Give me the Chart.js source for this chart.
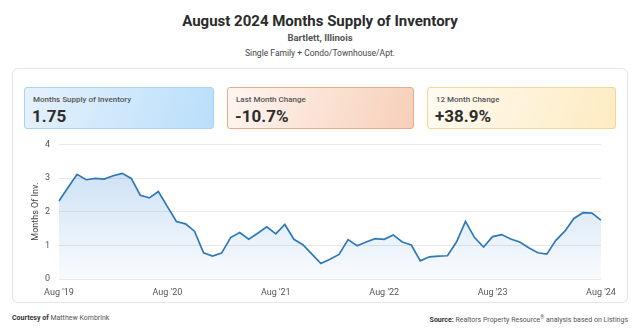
<!DOCTYPE html>
<html>
<head>
<meta charset="utf-8">
<script src="https://cdn.jsdelivr.net/npm/chart.js@4"></script>
<style>
  html, body { margin: 0; padding: 0; background: #fff; }
  body { width: 640px; height: 336px; position: relative; font-family: Roboto, "Open Sans", sans-serif; color: #333; overflow: hidden; }
  .titulo { position: absolute; top: 12px; left: 0; width: 640px; text-align: center; font-size: 15px; font-weight: 700; color: #2b2b2b; }
  .lugar { position: absolute; top: 32px; left: 0; width: 640px; text-align: center; font-size: 9.5px; font-weight: 700; color: #555; }
  .tipo { position: absolute; top: 48px; left: 0; width: 640px; text-align: center; font-size: 8.5px; color: #444; }
  .tarjeta { position: absolute; left: 12px; top: 68px; width: 614px; height: 233px; border: 1px solid #e6e6e6; border-radius: 6px; background: #fff; }
  .kpi { position: absolute; top: 87px; height: 42px; border-radius: 3px; box-sizing: border-box; }
  .kpi .lbl { position: absolute; left: 8px; top: 7px; font-size: 8px; font-weight: 500; color: #555; }
  .kpi .val { position: absolute; left: 7px; top: 18px; font-size: 17px; font-weight: 700; color: #2e2e2e; }
  #k1 { left: 24px; width: 190px; border: 1px solid #a9d3f3; background: linear-gradient(110deg, #e6f2fc 0%, #b9defa 100%); }
  #k2 { left: 227px; width: 187px; border: 1px solid #e9ab8c; background: linear-gradient(110deg, #fff6f1 0%, #f6cfb8 100%); }
  #k3 { left: 427px; width: 189px; border: 1px solid #f3d791; background: linear-gradient(110deg, #fffbf2 0%, #fdebc1 100%); }
  .grafico { position: absolute; left: 30px; top: 130px; width: 590px; height: 168px; }
  .pie { position: absolute; top: 314px; font-size: 7px; color: #555; }
  .pie b { color: #333; }
  .pie sup { font-size: 5px; }
</style>
</head>
<body>
<div class="titulo">August 2024 Months Supply of Inventory</div>
<div class="lugar">Bartlett, Illinois</div>
<div class="tipo">Single Family + Condo/Townhouse/Apt.</div>
<div class="tarjeta"></div>

<div class="kpi" id="k1"><div class="lbl">Months Supply of Inventory</div><div class="val" id="kpiValor"></div></div>
<div class="kpi" id="k2"><div class="lbl">Last Month Change</div><div class="val" id="kpiMes"></div></div>
<div class="kpi" id="k3"><div class="lbl">12 Month Change</div><div class="val" id="kpiAnual"></div></div>

<div class="grafico"><canvas id="graficoInventario"></canvas></div>

<div class="pie" style="left:12px;"><b>Courtesy of</b> Matthew Kombrink</div>
<div class="pie" style="right:12px;"><b>Source:</b> Realtors Property Resource<sup>®</sup> analysis based on Listings</div>

<script>
// =======================
// DATOS
// =======================
const meses = [
  "Aug '19","Sep '19","Oct '19","Nov '19","Dec '19","Jan '20","Feb '20","Mar '20","Apr '20","May '20","Jun '20","Jul '20",
  "Aug '20","Sep '20","Oct '20","Nov '20","Dec '20","Jan '21","Feb '21","Mar '21","Apr '21","May '21","Jun '21","Jul '21",
  "Aug '21","Sep '21","Oct '21","Nov '21","Dec '21","Jan '22","Feb '22","Mar '22","Apr '22","May '22","Jun '22","Jul '22",
  "Aug '22","Sep '22","Oct '22","Nov '22","Dec '22","Jan '23","Feb '23","Mar '23","Apr '23","May '23","Jun '23","Jul '23",
  "Aug '23","Sep '23","Oct '23","Nov '23","Dec '23","Jan '24","Feb '24","Mar '24","Apr '24","May '24","Jun '24","Jul '24",
  "Aug '24"
];

const inventario = [
  2.32, 2.72, 3.11, 2.95, 2.99, 2.97, 3.07, 3.14, 2.99, 2.49, 2.41, 2.60,
  2.15, 1.71, 1.64, 1.42, 0.78, 0.68, 0.77, 1.23, 1.38, 1.18, 1.36, 1.55,
  1.34, 1.62, 1.18, 1.02, 0.74, 0.46, 0.59, 0.73, 1.17, 0.99, 1.10, 1.20,
  1.18, 1.31, 1.10, 1.01, 0.54, 0.66, 0.68, 0.69, 1.10, 1.71, 1.23, 0.95,
  1.26, 1.32, 1.19, 1.10, 0.93, 0.78, 0.74, 1.15, 1.42, 1.80, 1.97, 1.96,
  1.75
];

const ticksY = [0, 1, 2, 3, 4];
const ticksX = ["Aug '19", "Aug '20", "Aug '21", "Aug '22", "Aug '23", "Aug '24"];

const kpiValor = "1.75";
const kpiMes = "-10.7%";
const kpiAnual = "+38.9%";

// =======================
// KPI
// =======================
document.getElementById("kpiValor").textContent = kpiValor;
document.getElementById("kpiMes").textContent = kpiMes;
document.getElementById("kpiAnual").textContent = kpiAnual;

// =======================
// GRAFICO
// =======================
const ctx = document.getElementById("graficoInventario");

new Chart(ctx, {
  type: "line",
  data: {
    labels: meses,
    datasets: [{
      data: inventario,
      borderColor: "#2f78b8",
      borderWidth: 1.7,
      pointRadius: 0,
      tension: 0,
      fill: "origin",
      backgroundColor: (c) => {
        const area = c.chart.chartArea;
        if (!area) return "rgba(60,140,210,0.2)";
        const g = c.chart.ctx.createLinearGradient(0, area.top, 0, area.bottom);
        g.addColorStop(0, "rgba(70,145,215,0.32)");
        g.addColorStop(1, "rgba(70,145,215,0.03)");
        return g;
      }
    }]
  },
  options: {
    responsive: true,
    maintainAspectRatio: false,
    animation: false,
    layout: { padding: { top: 6, right: 19, left: 0, bottom: 0 } },
    plugins: {
      legend: { display: false },
      tooltip: { enabled: false }
    },
    scales: {
      x: {
        grid: { display: false },
        border: { display: false },
        afterFit: (s) => { s.height = 19; },
        ticks: {
          autoSkip: false,
          maxRotation: 0,
          color: "#555",
          font: { family: "Roboto", size: 9 },
          padding: 0,
          callback: function (v) {
            const lbl = this.getLabelForValue(v);
            return ticksX.includes(lbl) ? lbl : "";
          }
        }
      },
      y: {
        min: ticksY[0],
        max: ticksY[ticksY.length - 1],
        afterBuildTicks: (s) => { s.ticks = ticksY.map(v => ({ value: v })); },
        afterFit: (s) => { s.width = 29; },
        grid: { color: "#e8e8e8", drawTicks: false },
        border: { display: false },
        ticks: {
          color: "#555",
          font: { family: "Roboto", size: 9 },
          padding: 9
        },
        title: {
          display: true,
          text: "Months Of Inv.",
          color: "#444",
          font: { family: "Roboto", size: 9 },
          padding: 0
        }
      }
    }
  }
});
</script>
</body>
</html>
